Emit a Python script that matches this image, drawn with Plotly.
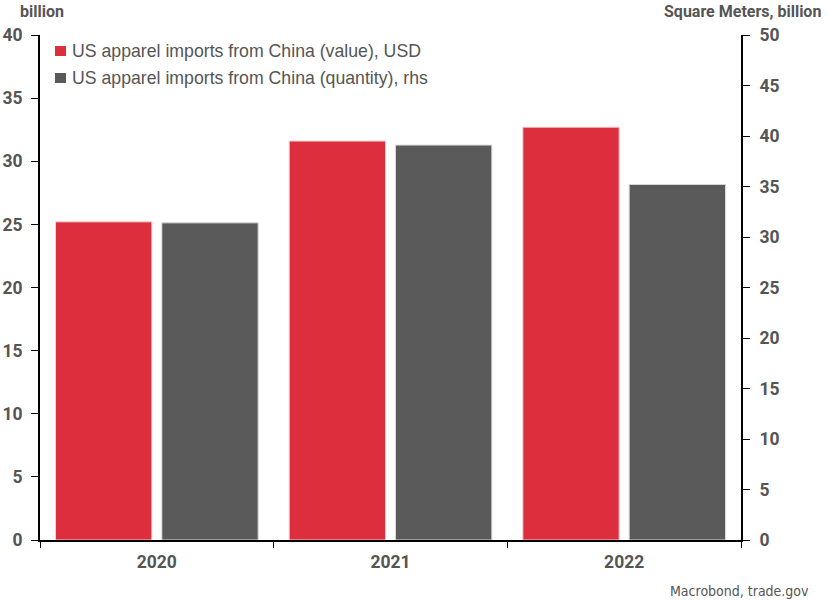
import plotly.graph_objects as go

years = ["2020", "2021", "2022"]
value_usd_bn = [25.2, 31.6, 32.7]       # left axis, billion USD
quantity_sqm_bn = [31.4, 39.1, 35.2]    # right axis, square meters, billion
series_names = [
    "US apparel imports from China (value), USD",
    "US apparel imports from China (quantity), rhs",
]

left_ticks = [0, 5, 10, 15, 20, 25, 30, 35, 40]
right_ticks = [0, 5, 10, 15, 20, 25, 30, 35, 40, 45, 50]

RED = "#DC2E3D"
GREY = "#5A5A5A"
TXT = "#555555"
TICK_FONT = dict(family="Roboto", size=17.5, color=TXT, weight="bold")
HEAD_FONT = dict(family="Roboto", size=16, color=TXT, weight="bold")

W, H = 828, 602
L, R, T, B = 40, 87, 35, 62


def px_x(x):
    return (x - L) / (W - L - R)


def px_y(y):
    return (H - B - y) / (H - B - T)


fig = go.Figure()
fig.add_trace(go.Bar(
    x=years, y=value_usd_bn, name=series_names[0],
    marker=dict(color=RED, line=dict(color="#F0D0D3", width=1)),
    offsetgroup="a", yaxis="y",
))
fig.add_trace(go.Bar(
    x=years, y=quantity_sqm_bn, name=series_names[1],
    marker=dict(color=GREY, line=dict(color="#D8D8D8", width=1)),
    offsetgroup="b", yaxis="y2",
))

axis_common = dict(
    showline=True, linecolor="black", linewidth=2,
    ticks="outside", tickcolor="black", tickwidth=1,
    tickfont=TICK_FONT, showgrid=False, zeroline=False, automargin=False,
)

fig.update_layout(
    width=W, height=H,
    margin=dict(l=L, r=R, t=T, b=B, autoexpand=False),
    plot_bgcolor="white", paper_bgcolor="white",
    barmode="group", bargap=0.09, bargroupgap=0.094,
    showlegend=False,
    xaxis=dict(type="category", tickson="boundaries", ticklen=6,
               ticklabelstandoff=5, **axis_common),
    yaxis=dict(range=[0, 40], tickvals=left_ticks, ticklen=7,
               ticklabelstandoff=5, **axis_common),
    yaxis2=dict(range=[0, 50], tickvals=right_ticks, overlaying="y", side="right",
                ticklen=7, ticklabelstandoff=6, **axis_common),
)

# axis unit headers and source note
fig.add_annotation(text="billion", x=px_x(18), y=px_y(12), xref="paper", yref="paper",
                   showarrow=False, xanchor="left", yanchor="middle", font=HEAD_FONT)
fig.add_annotation(text="Square Meters, billion", x=px_x(823), y=px_y(12),
                   xref="paper", yref="paper", showarrow=False,
                   xanchor="right", yanchor="middle", font=HEAD_FONT)
fig.add_annotation(text="Macrobond, trade.gov", x=px_x(811), y=px_y(591),
                   xref="paper", yref="paper", showarrow=False,
                   xanchor="right", yanchor="middle",
                   font=dict(family="DejaVu Sans Condensed", size=14, color=TXT))

# legend: colour swatch + series name
for i, (name, color) in enumerate(zip(series_names, [RED, GREY])):
    cy = 51 + i * 27
    fig.add_shape(type="rect", xref="paper", yref="paper",
                  x0=px_x(55), x1=px_x(66), y0=px_y(cy - 5), y1=px_y(cy + 5),
                  fillcolor=color, line=dict(width=0))
    fig.add_annotation(text=name, x=px_x(70), y=px_y(cy), xref="paper", yref="paper",
                       showarrow=False, xanchor="left", yanchor="middle",
                       font=dict(family="Liberation Sans", size=17.7, color=TXT))

fig.write_html("out.html")
